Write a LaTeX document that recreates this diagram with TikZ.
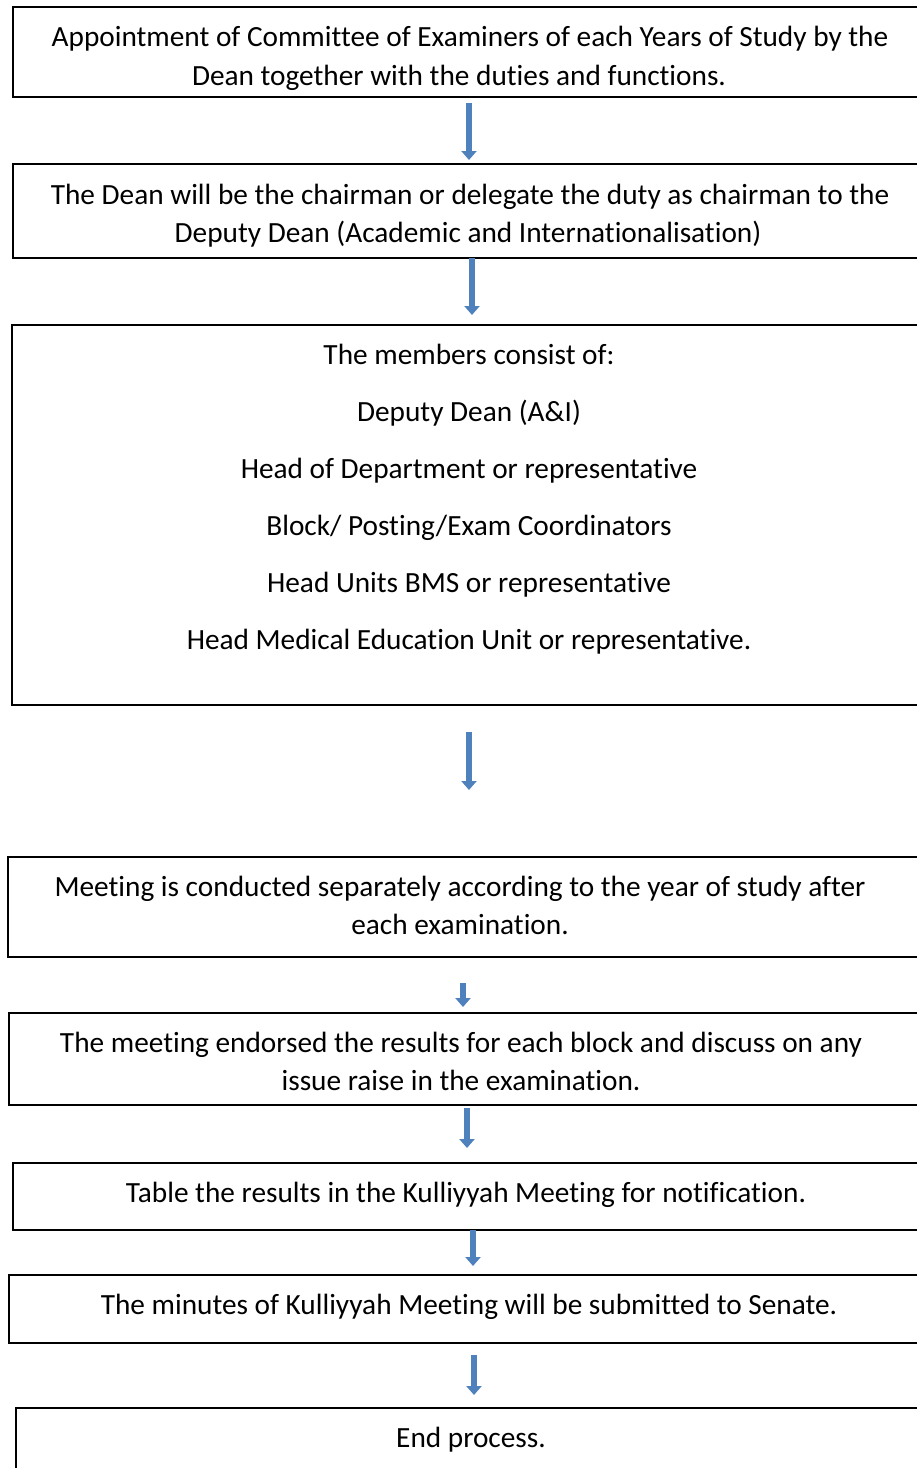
\documentclass[tikz,border=0pt]{standalone}
\usepackage{fontspec}
\setmainfont{Carlito}[Ligatures=CommonOff]
\usetikzlibrary{arrows.meta}
\definecolor{arrowblue}{HTML}{4F81BD}
\begin{document}
\begin{tikzpicture}[x=1pt,y=-1pt,
  boxnode/.style={draw=black,line width=1.6pt,anchor=north west,inner sep=0pt,outer sep=0pt},
  txt/.style={anchor=base,inner sep=0pt,font=\fontsize{29.3}{34}\selectfont},
  flowarrow/.style={draw=arrowblue,line width=5.5pt,-{Triangle[width=15pt,length=9pt]}}]
\useasboundingbox (0,0) rectangle (917,1468);
\clip (0,0) rectangle (917,1468);
% boxes
\node[boxnode,minimum width=917pt,minimum height=90pt] (b1) at (13,7) {};
\node[boxnode,minimum width=917pt,minimum height=94pt] (b2) at (13,164) {};
\node[boxnode,minimum width=917pt,minimum height=380pt] (b3) at (12,325) {};
\node[boxnode,minimum width=922pt,minimum height=100pt] (b4) at (8,857) {};
\node[boxnode,minimum width=921pt,minimum height=92pt] (b5) at (9,1013) {};
\node[boxnode,minimum width=917pt,minimum height=67pt] (b6) at (13,1163) {};
\node[boxnode,minimum width=921pt,minimum height=68pt] (b7) at (9,1275) {};
\node[boxnode,minimum width=914pt,minimum height=90pt] (b8) at (16,1408) {};
% texts
\node[txt] (t1a) at (470,46) {Appointment of Committee of Examiners of each Years of Study by the};
\node[txt] (t1b) at (459,85) {Dean together with the duties and functions.};
\node[txt] (t2a) at (470,204) {The Dean will be the chairman or delegate the duty as chairman to the};
\node[txt] (t2b) at (468,242) {Deputy Dean (Academic and Internationalisation)};
\node[txt] (t3a) at (469,364) {The members consist of:};
\node[txt] (t3b) at (469,421) {Deputy Dean (A\&I)};
\node[txt] (t3c) at (469,478) {Head of Department or representative};
\node[txt] (t3d) at (469,535) {Block/ Posting/Exam Coordinators};
\node[txt] (t3e) at (469,592) {Head Units BMS or representative};
\node[txt] (t3f) at (469,649) {Head Medical Education Unit or representative.};
\node[txt] (t4a) at (460,896) {Meeting is conducted separately according to the year of study after};
\node[txt] (t4b) at (460,934) {each examination.};
\node[txt] (t5a) at (461,1052) {The meeting endorsed the results for each block and discuss on any};
\node[txt] (t5b) at (461,1090) {issue raise in the examination.};
\node[txt] (t6) at (466,1202) {Table the results in the Kulliyyah Meeting for notification.};
\node[txt] (t7) at (469,1314) {The minutes of Kulliyyah Meeting will be submitted to Senate.};
\node[txt] (t8) at (471,1447) {End process.};
% arrows
\coordinate (a1s) at (469,103); \coordinate (a1e) at (469,160);
\coordinate (a2s) at (472,258); \coordinate (a2e) at (472,315);
\coordinate (a3s) at (469,732); \coordinate (a3e) at (469,790);
\coordinate (a4s) at (463,983); \coordinate (a4e) at (463,1007);
\coordinate (a5s) at (467,1108); \coordinate (a5e) at (467,1148);
\coordinate (a6s) at (473,1230); \coordinate (a6e) at (473,1266);
\coordinate (a7s) at (474,1355); \coordinate (a7e) at (474,1395);
\foreach \i in {1,...,7}{\draw[flowarrow] (a\i s) -- (a\i e);}
\end{tikzpicture}
\end{document}
